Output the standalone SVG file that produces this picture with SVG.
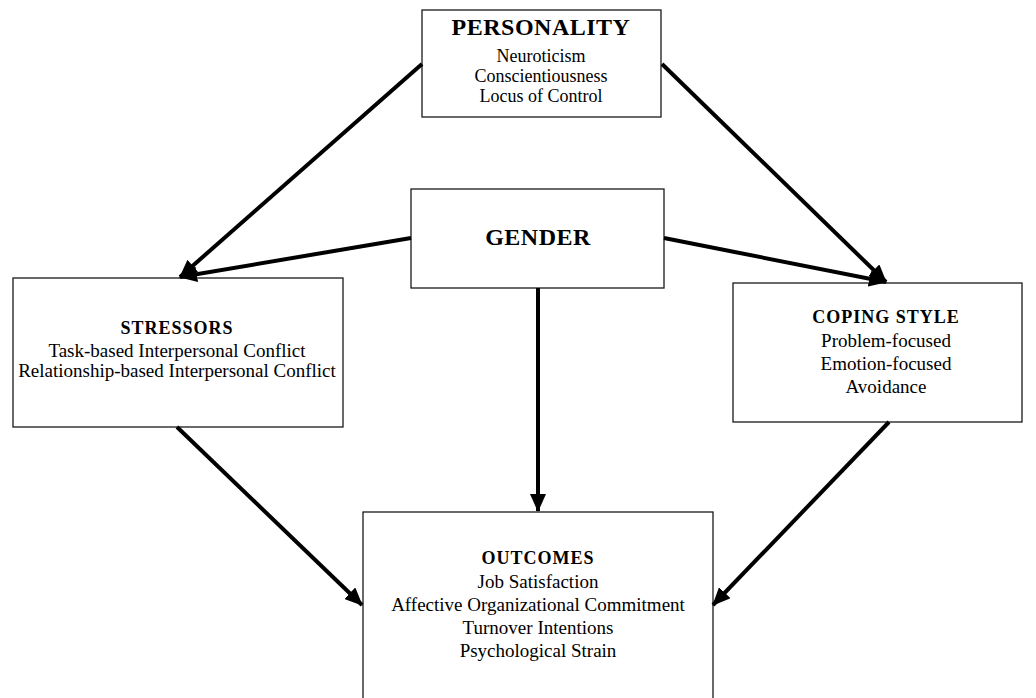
<svg xmlns="http://www.w3.org/2000/svg" width="1036" height="698" viewBox="0 0 1036 698">
<style>
.box{fill:#fff;stroke:#1a1a1a;stroke-width:1.3}
.t{font-family:"Liberation Serif","Times New Roman",serif;fill:#000;text-anchor:middle}
.h1{font-weight:bold;font-size:24px;letter-spacing:0.5px}
.h2{font-weight:bold;font-size:18px;letter-spacing:1px}
.b{font-size:19px}
.bs{font-size:18px}
.c{fill:none;stroke:#000;stroke-width:4}
</style>
<defs>
<marker id="ah" markerUnits="userSpaceOnUse" markerWidth="18" markerHeight="16" viewBox="0 0 18 16" refX="17" refY="8" orient="auto">
<path d="M0,0 L18,8 L0,16 Z" fill="#000"/>
</marker>
</defs>
<rect width="1036" height="698" fill="#fff"/>
<g id="personality">
<rect class="box" x="422" y="10" width="239" height="107"/>
<text class="t h1" x="541" y="35">PERSONALITY</text>
<text class="t bs" x="541" y="62">Neuroticism</text>
<text class="t bs" x="541" y="82">Conscientiousness</text>
<text class="t bs" x="541" y="102">Locus of Control</text>
</g>
<g id="gender">
<rect class="box" x="411" y="189" width="253" height="99"/>
<text class="t h1" x="538" y="245">GENDER</text>
</g>
<g id="stressors">
<rect class="box" x="13" y="278" width="330" height="149"/>
<text class="t h2" x="177" y="334">STRESSORS</text>
<text class="t b" x="177" y="357">Task-based Interpersonal Conflict</text>
<text class="t b" x="177" y="377">Relationship-based Interpersonal Conflict</text>
</g>
<g id="coping">
<rect class="box" x="733" y="283" width="289" height="139"/>
<text class="t h2" x="886" y="323">COPING STYLE</text>
<text class="t b" x="886" y="347">Problem-focused</text>
<text class="t b" x="886" y="370">Emotion-focused</text>
<text class="t b" x="886" y="393">Avoidance</text>
</g>
<g id="outcomes">
<rect class="box" x="363" y="512" width="350" height="200"/>
<text class="t h2" x="538" y="564">OUTCOMES</text>
<text class="t b" x="538" y="588">Job Satisfaction</text>
<text class="t b" x="538" y="611">Affective Organizational Commitment</text>
<text class="t b" x="538" y="634">Turnover Intentions</text>
<text class="t b" x="538" y="657">Psychological Strain</text>
</g>
<g id="connectors">
<line class="c" x1="422" y1="64" x2="180" y2="277" marker-end="url(#ah)"/>
<line class="c" x1="411" y1="238" x2="180" y2="277" marker-end="url(#ah)"/>
<line class="c" x1="662" y1="64" x2="886" y2="282" marker-end="url(#ah)"/>
<line class="c" x1="664" y1="238" x2="886" y2="282" marker-end="url(#ah)"/>
<line class="c" x1="538" y1="288" x2="538" y2="511" marker-end="url(#ah)"/>
<line class="c" x1="177" y1="427" x2="362" y2="605" marker-end="url(#ah)"/>
<line class="c" x1="889" y1="422" x2="713" y2="605" marker-end="url(#ah)"/>
</g>
</svg>
